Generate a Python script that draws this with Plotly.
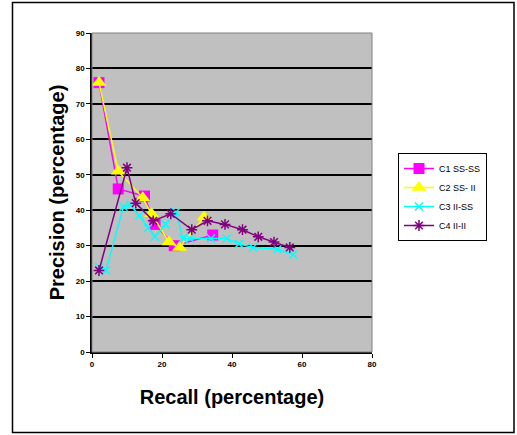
import plotly.graph_objects as go

c1_x = [2, 7.5, 15, 18, 23.5, 34.5]
c1_y = [76, 46, 44, 36, 30, 33]
c2_x = [2, 7.5, 14.5, 17, 22, 25, 32]
c2_y = [76, 51, 43.5, 39, 31, 29.5, 38]
c3_x = [2, 4, 9, 11, 13.5, 16, 18, 21, 24, 26, 28, 34, 38.5, 42, 46, 53, 57.5]
c3_y = [24, 23, 41, 41.5, 38.5, 35, 32.5, 36, 39.5, 32, 32, 32, 32, 30.5, 29.5, 29, 27.5]
c4_x = [2, 10, 12.5, 17.5, 22.5, 28.5, 33, 38, 43, 47.5, 52, 56.5]
c4_y = [23, 52, 42, 37, 39, 34.5, 37, 36, 34.5, 32.5, 31, 29.5]
names = ["C1 SS-SS", "C2 SS- II", "C3 II-SS", "C4 II-II"]
x_ticks = [0, 20, 40, 60, 80]
y_ticks = [0, 10, 20, 30, 40, 50, 60, 70, 80, 90]

fig = go.Figure()
fig.add_trace(go.Scatter(x=c1_x, y=c1_y, name=names[0], mode="lines+markers",
                         line=dict(color="#ff00ff", width=1.5),
                         marker=dict(symbol="square", size=11, color="#ff00ff")))
fig.add_trace(go.Scatter(x=c2_x, y=c2_y, name=names[1], mode="lines+markers",
                         line=dict(color="#ffff00", width=1.5),
                         marker=dict(symbol="triangle-up", size=13, color="#ffff00")))
fig.add_trace(go.Scatter(x=c3_x, y=c3_y, name=names[2], mode="lines+markers",
                         line=dict(color="#00ffff", width=1.5),
                         marker=dict(symbol="x-thin-open", size=8, color="#00ffff",
                                     line=dict(color="#00ffff", width=1.5))))
fig.add_trace(go.Scatter(x=c4_x, y=c4_y, name=names[3], mode="lines+markers",
                         line=dict(color="#800080", width=1.5),
                         marker=dict(symbol="asterisk-open", size=9, color="#800080",
                                     line=dict(color="#800080", width=1.5))))

def px_x(p):
    return (p - 92) / 280.0

def px_y(p):
    return (352 - p) / 319.0

fig.update_layout(
    width=517, height=435,
    margin=dict(l=92, r=145, t=33, b=83),
    paper_bgcolor="white",
    plot_bgcolor="#c0c0c0",
    font=dict(family="Liberation Sans, Arial", color="black"),
    showlegend=True,
    legend=dict(x=px_x(398), y=px_y(153), xanchor="left", yanchor="top",
                bgcolor="white", bordercolor="black", borderwidth=1,
                font=dict(size=9, family="Liberation Sans, Arial"),
                itemwidth=30, tracegroupgap=2),
    xaxis=dict(range=[0, 80], tickvals=x_ticks,
               ticktext=["<b>%d</b>" % v for v in x_ticks],
               showgrid=False, zeroline=False,
               showline=True, linecolor="black", linewidth=1.5,
               ticks="outside", ticklen=4, tickcolor="black",
               tickfont=dict(size=8, family="Liberation Sans, Arial"),
               title=dict(text="<b>Recall (percentage)</b>", font=dict(size=20), standoff=22)),
    yaxis=dict(range=[0, 90], tickvals=y_ticks,
               ticktext=["<b>%d</b>" % v for v in y_ticks],
               showgrid=True, gridcolor="black", gridwidth=1.5,
               zeroline=False, showline=True, linecolor="black", linewidth=1.5,
               ticks="outside", ticklen=4, tickcolor="black",
               tickfont=dict(size=8, family="Liberation Sans, Arial"),
               title=dict(text="<b>Precision (percentage)</b>", font=dict(size=20), standoff=6)),
    shapes=[
        dict(type="rect", xref="paper", yref="paper", x0=0, x1=1, y0=0, y1=1,
             line=dict(color="#808080", width=1)),
        dict(type="rect", xref="paper", yref="paper",
             x0=px_x(12.5), x1=px_x(514), y0=px_y(432.5), y1=px_y(2.5),
             line=dict(color="black", width=1.5)),
    ],
)

fig.write_html("out.html")
